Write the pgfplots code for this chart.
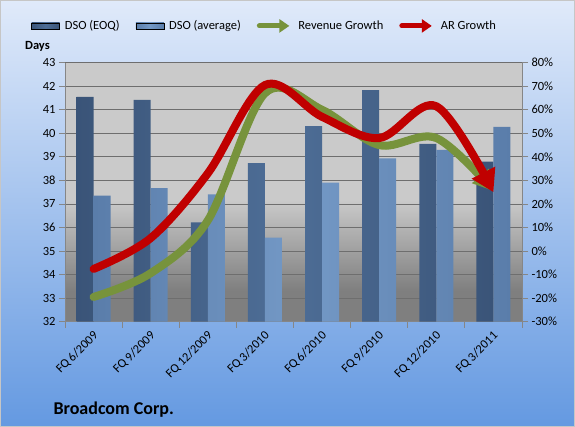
\documentclass[border=0pt]{standalone}
\usepackage{pgfplots}
\pgfplotsset{compat=1.18}
\usepackage{pgfplotstable}
\usepackage{fontspec}
\setmainfont{Carlito}
\usetikzlibrary{arrows.meta}

\definecolor{bgtop}{HTML}{E0EAFA}
\definecolor{bgmid}{HTML}{BFD4F2}
\definecolor{bgbot}{HTML}{6499E1}
\definecolor{pblight}{HTML}{CACACA}
\definecolor{pbdark}{HTML}{7F7F7F}
\definecolor{darkbarE}{HTML}{3A5478}
\definecolor{darkbarM}{HTML}{4E6E97}
\definecolor{lightbarE}{HTML}{5A7DAA}
\definecolor{lightbarM}{HTML}{7499C6}
\definecolor{revgreen}{HTML}{77933C}
\definecolor{argred}{HTML}{C00000}
\definecolor{axisgray}{HTML}{868686}
\definecolor{gridgray}{HTML}{6E6E6E}

\pgfdeclareverticalshading{plotbg}{100bp}{color(0bp)=(pbdark); color(31bp)=(pbdark); color(48.5bp)=(pblight); color(100bp)=(pblight)}

\pgfplotstableread{
x eoq avg
0 41.55 37.35
1 41.42 37.67
2 36.22 37.41
3 38.73 35.57
4 40.31 37.91
5 41.84 38.94
6 39.55 39.30
7 38.80 40.27
}\dsodata

\pgfplotstableread{
x rev ar
0 -19.5 -7.6
1 -9.4 5.5
2 13.0 33.0
3 67.0 70.5
4 60.0 57.0
5 45.0 48.0
6 48.0 61.5
7 25.5 25.0
}\growthdata

\begin{document}
\begin{tikzpicture}
% page background
\shade[top color=bgtop, middle color=bgmid, bottom color=bgbot, draw=none] (-65pt,-105.3pt) rectangle (510pt,321.7pt);
\draw[gray!45, line width=0.8pt] (-64.6pt,-104.9pt) rectangle (509.6pt,321.3pt);
% plot area background
\fill[shading=plotbg] (0pt,0pt) rectangle (457pt,259pt);

\begin{axis}[
  at={(0pt,0pt)}, anchor=south west,
  scale only axis, width=457pt, height=259pt,
  xmin=-0.5, xmax=7.5, ymin=32, ymax=43,
  axis x line=bottom, axis y line=left,
  axis line style={-, axisgray, line width=0.8pt},
  ybar=0pt, bar width=17pt,
  xtick={0,...,7},
  xticklabels={FQ 6/2009,FQ 9/2009,FQ 12/2009,FQ 3/2010,FQ 6/2010,FQ 9/2010,FQ 12/2010,FQ 3/2011},
  minor xtick={-0.5,0.5,...,7.5},
  major x tick style={draw=none},
  minor x tick style={axisgray, line width=0.8pt},
  xticklabel style={rotate=45, anchor=east, font=\fontsize{12.5}{14}\selectfont, yshift=-6pt, xshift=1pt},
  ytick={32,...,43},
  y tick style={axisgray, line width=0.8pt},
  tick align=outside, major tick length=6pt, minor tick length=6pt,
  yticklabel style={font=\fontsize{12.5}{14}\selectfont},
  /pgf/number format/assume math mode=true,
  ymajorgrids, grid style={gridgray, line width=0.8pt},
  clip=true,
]
\addplot[draw=none, left color=darkbarE, right color=darkbarE, middle color=darkbarM] table[x=x, y=eoq] {\dsodata};
\addplot[draw=none, left color=lightbarE, right color=lightbarE, middle color=lightbarM] table[x=x, y=avg] {\dsodata};
\end{axis}

\begin{axis}[
  at={(0pt,0pt)}, anchor=south west,
  scale only axis, width=457pt, height=259pt,
  xmin=-0.5, xmax=7.5, ymin=-30, ymax=80,
  axis x line=none, axis y line=right,
  axis line style={-, axisgray, line width=0.8pt},
  ytick={-30,-20,...,80},
  y tick style={axisgray, line width=0.8pt},
  tick align=outside, major tick length=6pt,
  yticklabel={\pgfmathprintnumber{\tick}\%},
  yticklabel style={font=\fontsize{12.5}{14}\selectfont},
  /pgf/number format/assume math mode=true,
  clip=false,
  legend columns=4,
  legend style={at={(0.437,1.142)}, anchor=center, draw=none, fill=none,
    font=\fontsize{12.5}{14}\selectfont,
    /tikz/every even column/.append style={column sep=14pt}},
  legend cell align=left,
]
\addlegendimage{legend image code/.code={\fill[left color=darkbarE, right color=darkbarE, middle color=darkbarM, shading angle=90] (0pt,-3pt) rectangle (28pt,3pt); \node[inner sep=0pt, minimum size=0pt] at (31pt,0pt) {};}}
\addlegendentry{DSO (EOQ)}
\addlegendimage{legend image code/.code={\fill[left color=lightbarE, right color=lightbarE, middle color=lightbarM, shading angle=90] (0pt,-3pt) rectangle (28pt,3pt); \node[inner sep=0pt, minimum size=0pt] at (31pt,0pt) {};}}
\addlegendentry{DSO (average)}
\addplot[revgreen, line width=8pt, smooth, tension=0.55, line cap=round,
  -{Triangle[length=20pt,width=21pt]},
  legend image code/.code={\draw[revgreen, line width=5pt, -{Triangle[length=10pt,width=13pt]}] (0pt,0pt) -- (30pt,0pt); \node[inner sep=0pt, minimum size=0pt] at (33pt,0pt) {};}]
  table[x=x, y=rev] {\growthdata};
\addlegendentry{Revenue Growth}
\addplot[argred, line width=8pt, smooth, tension=0.55, line cap=round,
  -{Triangle[length=22pt,width=25pt]},
  legend image code/.code={\draw[argred, line width=5pt, -{Triangle[length=10pt,width=13pt]}] (0pt,0pt) -- (30pt,0pt); \node[inner sep=0pt, minimum size=0pt] at (33pt,0pt) {};}]
  table[x=x, y=ar] {\growthdata};
\addlegendentry{AR Growth}
\end{axis}

\node[font=\bfseries\fontsize{12.5}{14}\selectfont] at (-27.5pt,275.7pt) {Days};
\node[font=\bfseries\fontsize{18}{20}\selectfont, anchor=west] at (-15pt,-88.3pt) {Broadcom Corp.};
\end{tikzpicture}
\end{document}
